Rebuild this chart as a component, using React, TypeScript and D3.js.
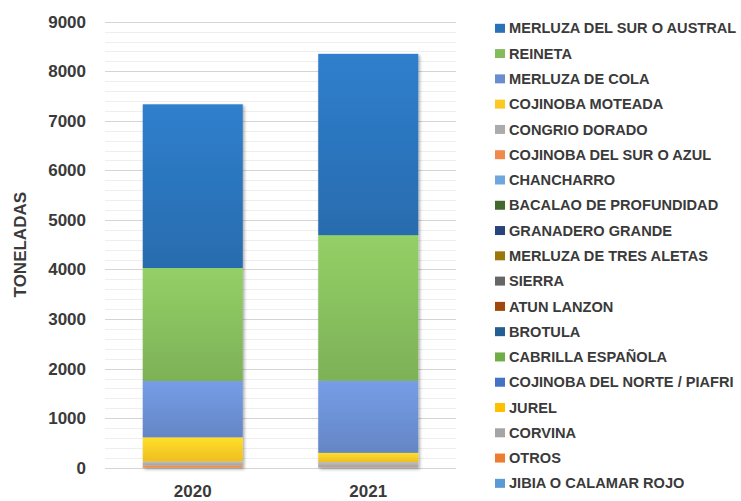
import React, { useEffect, useRef } from "react";
import * as d3 from "d3";

// categories on the x axis
const years = ["2020", "2021"];

// legend order (top of legend = top of the stack)
const species = [
  "MERLUZA DEL SUR O AUSTRAL",
  "REINETA",
  "MERLUZA DE COLA",
  "COJINOBA MOTEADA",
  "CONGRIO DORADO",
  "COJINOBA DEL SUR O AZUL",
  "CHANCHARRO",
  "BACALAO DE PROFUNDIDAD",
  "GRANADERO GRANDE",
  "MERLUZA DE TRES ALETAS",
  "SIERRA",
  "ATUN LANZON",
  "BROTULA",
  "CABRILLA ESPAÑOLA",
  "COJINOBA DEL NORTE / PIAFRI",
  "JUREL",
  "CORVINA",
  "OTROS",
  "JIBIA O CALAMAR ROJO",
];

const speciesColors = [
  "#2a72b8", "#84bb5c", "#6a8dd0", "#fbc824", "#ababab", "#f08a4b",
  "#6fa6dc", "#436a2c", "#27457a", "#9b760a", "#666666", "#9e480e",
  "#255e91", "#70ad47", "#4472c4", "#ffc000", "#a5a5a5", "#ed7d31",
  "#5b9bd5",
];

// tonnes per species, same order as `species`
const values2020 = [3303, 2281, 1136, 488, 80, 45, 0, 0, 0, 0, 0, 0, 0, 0, 0, 0, 0, 0, 0];
const values2021 = [3659, 2940, 1452, 185, 105, 10, 0, 0, 0, 0, 0, 0, 0, 0, 0, 0, 0, 0, 0];

const yTicks = [0, 1000, 2000, 3000, 4000, 5000, 6000, 7000, 8000, 9000];
const yMinorTicks = d3.range(0, 9001, 200);

const W = 741;
const H = 501;
const plot = { left: 105, right: 456, top: 21.7, bottom: 467.7 };
const font = "'Liberation Sans', Arial, sans-serif";

function App() {
  const ref = useRef<SVGSVGElement>(null);

  useEffect(() => {
    const svg = d3.select(ref.current);
    svg.selectAll("*").remove();
    draw(svg);
  }, []);

  function draw(svg: any) {
    const rows = years.map((yr, i) => {
      const vals = i === 0 ? values2020 : values2021;
      const r: any = { year: yr };
      species.forEach((s, j) => (r[s] = vals[j]));
      return r;
    });

    const keys = species.slice().reverse(); // bottom of stack first
    const stacked = d3.stack().keys(keys)(rows);

    const x = d3.scaleBand()
      .domain(years)
      .range([plot.left, plot.right])
      .paddingInner(0.43)
      .paddingOuter(0.215);

    const y = d3.scaleLinear().domain([0, 9000]).range([plot.bottom, plot.top]);

    const color = d3.scaleOrdinal<string, string>().domain(species).range(speciesColors);

    // gradients + shadow
    const defs = svg.append("defs");
    species.forEach((s, i) => {
      const c = color(s);
      const g = defs.append("linearGradient")
        .attr("id", "grad" + i)
        .attr("x1", 0).attr("y1", 0).attr("x2", 0).attr("y2", 1);
      g.append("stop").attr("offset", "0%").attr("stop-color", d3.color(c)!.brighter(0.3).formatHex());
      g.append("stop").attr("offset", "100%").attr("stop-color", d3.color(c)!.darker(0.15).formatHex());
    });
    const f = defs.append("filter").attr("id", "shadow")
      .attr("x", "-10%").attr("y", "-10%").attr("width", "130%").attr("height", "130%");
    f.append("feDropShadow")
      .attr("dx", 1.5).attr("dy", 1.5).attr("stdDeviation", 1.5)
      .attr("flood-color", "#000").attr("flood-opacity", 0.35);

    // grid
    svg.append("g").selectAll("line")
      .data(yMinorTicks)
      .enter().append("line")
      .attr("x1", plot.left).attr("x2", plot.right)
      .attr("y1", (d: number) => Math.round(y(d)) + 0.5)
      .attr("y2", (d: number) => Math.round(y(d)) + 0.5)
      .style("stroke", (d: number) => (d % 1000 === 0 ? "#d4d4d4" : "#eeeeee"))
      .style("stroke-width", 1);

    // bars
    const barGroup = svg.append("g").attr("filter", "url(#shadow)");
    stacked.forEach((layer: any) => {
      const idx = species.indexOf(layer.key);
      barGroup.append("g").selectAll("rect")
        .data(layer.filter((d: any) => d[1] - d[0] > 0))
        .enter().append("rect")
        .attr("x", (d: any) => x(d.data.year))
        .attr("y", (d: any) => y(d[1]))
        .attr("width", x.bandwidth())
        .attr("height", (d: any) => y(d[0]) - y(d[1]))
        .style("fill", `url(#grad${idx})`);
    });

    // y ticks
    svg.append("g").selectAll("text")
      .data(yTicks)
      .enter().append("text")
      .attr("x", 86)
      .attr("y", (d: number) => y(d))
      .attr("dy", "0.35em")
      .style("text-anchor", "end")
      .style("font-family", font)
      .style("font-weight", "bold")
      .style("font-size", "17px")
      .style("fill", "#3a3a3a")
      .text((d: number) => d);

    // x labels
    svg.append("g").selectAll("text")
      .data(years)
      .enter().append("text")
      .attr("x", (d: string) => x(d)! + x.bandwidth() / 2)
      .attr("y", 491)
      .attr("dy", "0.35em")
      .style("text-anchor", "middle")
      .style("font-family", font)
      .style("font-weight", "bold")
      .style("font-size", "17px")
      .style("fill", "#3a3a3a")
      .text((d: string) => d);

    // y axis title
    svg.append("text")
      .attr("transform", `translate(20, ${(plot.top + plot.bottom) / 2}) rotate(-90)`)
      .attr("dy", "0.35em")
      .style("text-anchor", "middle")
      .style("font-family", font)
      .style("font-weight", "bold")
      .style("font-size", "17px")
      .style("fill", "#3a3a3a")
      .text("TONELADAS");

    // legend
    const legend = svg.append("g");
    const rowH = 25.28;
    const items = legend.selectAll("g")
      .data(species)
      .enter().append("g")
      .attr("transform", (d: string, i: number) => `translate(495, ${28.3 + i * rowH})`);
    items.append("rect")
      .attr("x", 0).attr("y", -4.5)
      .attr("width", 10).attr("height", 9)
      .style("fill", (d: string) => color(d));
    items.append("text")
      .attr("x", 14)
      .attr("dy", "0.35em")
      .style("font-family", font)
      .style("font-weight", "bold")
      .style("font-size", "14.6px")
      .style("fill", "#3a3a3a")
      .text((d: string) => d);
  }

  return (
    <svg
      ref={ref}
      width={W}
      height={H}
      style={{ position: "absolute", left: 0, top: 0, background: "#fff" }}
    />
  );
}

export default App;
